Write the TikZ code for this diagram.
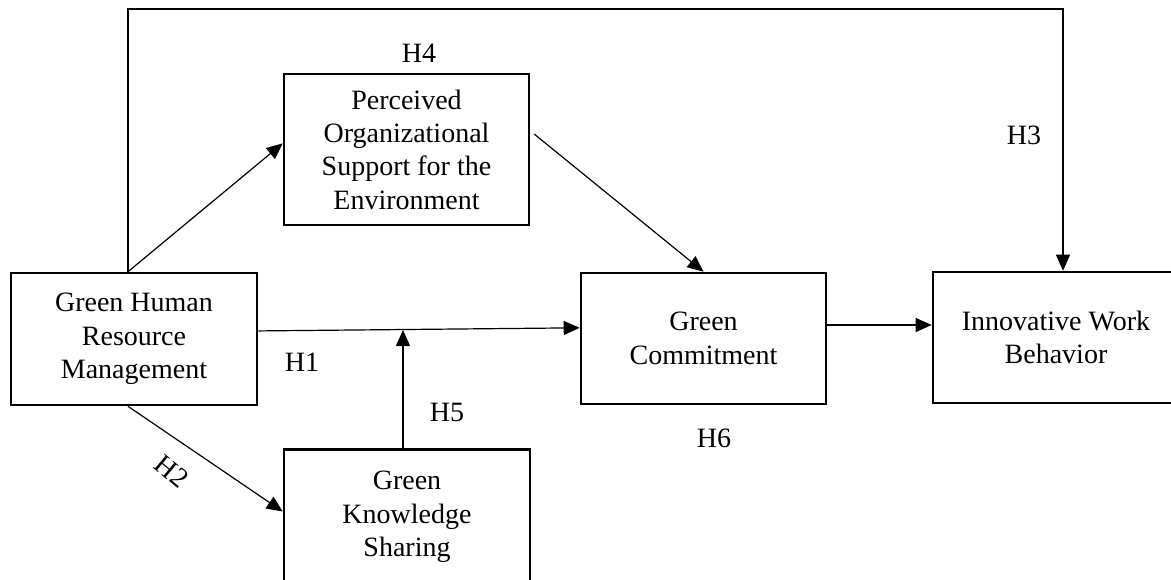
\documentclass[tikz,border=0pt]{standalone}
\usepackage{fontspec}
\setmainfont{Liberation Serif}
\usetikzlibrary{arrows.meta,calc}
\begin{document}
\begin{tikzpicture}[x=1pt,y=-1pt,
  box/.style={draw,line width=2.6pt,align=center,inner sep=0pt,font=\fontsize{28}{33.3}\selectfont},
  lbl/.style={font=\fontsize{28}{33.3}\selectfont,inner sep=1pt},
  arr/.style={line width=1.2pt,-{Triangle[length=16pt,width=14pt]}},
  ln/.style={line width=1.2pt}]
\useasboundingbox (0,0) rectangle (1171,579);
\clip (0,0) rectangle (1171,579);
\fill[white] (0,0) rectangle (1171,579);

\node[box,minimum width=245pt,minimum height=151pt] (pose) at (406.5,149.5) {Perceived\\Organizational\\Support for the\\Environment};
\node[box,minimum width=246pt,minimum height=132pt] (ghrm) at (134,339) {Green Human\\Resource\\Management};
\node[box,minimum width=245pt,minimum height=131pt] (gc) at (703.5,338.5) {Green\\Commitment};
\node[box,minimum width=246pt,minimum height=131pt] (iwb) at (1056,337.5) {Innovative Work\\Behavior};
\node[box,minimum width=246pt,minimum height=135pt] (gks) at (407,517) {Green\\Knowledge\\Sharing};

\coordinate (topL) at (128,9);
\coordinate (topR) at (1063,9);
\coordinate (h5tip) at (403,330);
\coordinate (mid) at (0,325);

% H3
\draw[arr] (topL |- ghrm.north) -- (topL) -- (topR) -- (topR |- iwb.north);
% H4 path GHRM -> POSE
\draw[arr] (topL |- ghrm.north) -- ($(pose.north west)!0.46!(pose.south west)$);
% POSE -> GC
\draw[arr] ($(pose.north east)!0.4!(pose.south east)+(4,0)$) -- (gc.north);
% H1
\draw[arr] ($(ghrm.north east)!0.44!(ghrm.south east)$) -- ($(gc.north west)!0.42!(gc.south west)$);
% H5
\draw[arr] (h5tip |- gks.north) -- (h5tip);
% H2
\draw[arr] (topL |- ghrm.south) -- ($(gks.north west)!0.46!(gks.south west)$);
% GC -> IWB
\draw[arr] (gc.east |- mid) -- (iwb.west |- mid);

\node[lbl] (lh4) at (419,53) {H4};
\node[lbl] (lh3) at (1024,135) {H3};
\node[lbl] (lh1) at (302,362) {H1};
\node[lbl] (lh5) at (447,412) {H5};
\node[lbl] (lh6) at (714,438) {H6};
\node[lbl,rotate=-40,inner sep=0pt] (lh2) at (172,471) {H2};
\end{tikzpicture}
\end{document}
